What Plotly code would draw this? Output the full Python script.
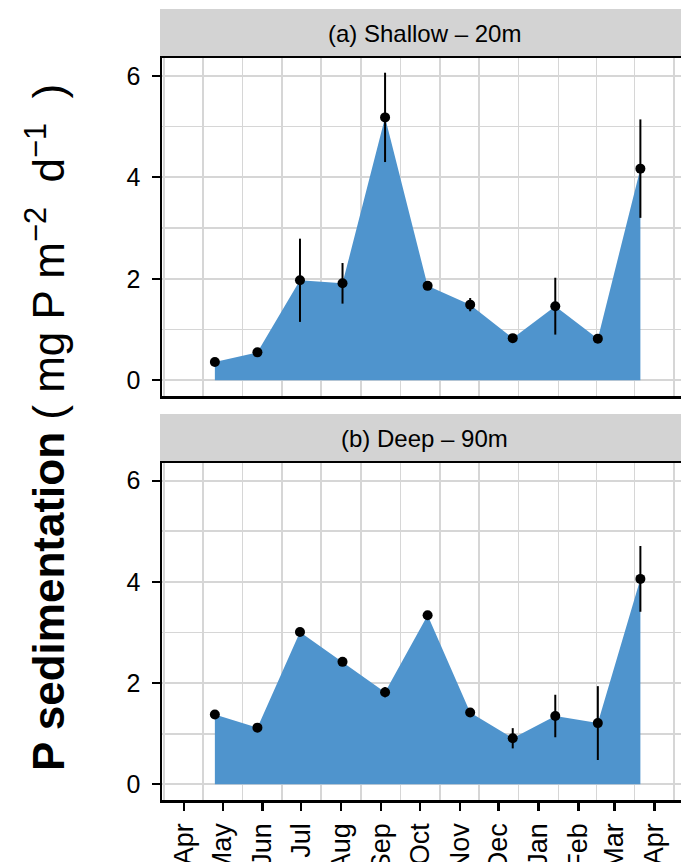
import plotly.graph_objects as go
import pandas as pd

# ---------------- data ----------------
sample_dates = ["2014-04-25", "2014-05-28", "2014-06-30", "2014-08-02", "2014-09-04",
                "2014-10-07", "2014-11-09", "2014-12-12", "2015-01-14", "2015-02-16",
                "2015-03-21"]

shallow_mean = [0.36, 0.55, 1.97, 1.91, 5.18, 1.86, 1.49, 0.83, 1.46, 0.82, 4.17]
shallow_sd = [0.03, 0.04, 0.82, 0.40, 0.88, 0.04, 0.13, 0.04, 0.56, 0.03, 0.97]

deep_mean = [1.38, 1.12, 3.01, 2.42, 1.82, 3.34, 1.42, 0.91, 1.35, 1.21, 4.06]
deep_sd = [0.03, 0.03, 0.03, 0.03, 0.10, 0.03, 0.04, 0.20, 0.42, 0.73, 0.65]

month_ticks = ["2014-04-01", "2014-05-01", "2014-06-01", "2014-07-01", "2014-08-01",
               "2014-09-01", "2014-10-01", "2014-11-01", "2014-12-01", "2015-01-01",
               "2015-02-01", "2015-03-01", "2015-04-01"]
month_labels = ["Apr", "May", "Jun", "Jul", "Aug", "Sep", "Oct", "Nov", "Dec",
                "Jan", "Feb", "Mar", "Apr"]

strip_labels = ["(a) Shallow \u2013 20m", "(b) Deep \u2013 90m"]
y_ticks = [0, 2, 4, 6]

# ---------------- styling ----------------
FILL = "#4F94CD"
GRID = "#D6D6D6"
FONT = "Liberation Sans, Arial, Helvetica, sans-serif"
W, H = 681, 862
ML, MR, MT = 162, 0, 58
MB = H - 800
PW = W - ML - MR
PH = H - MT - MB

def py(pix):  # pixel row -> paper y
    return (H - MB - pix) / PH

def px(pix):  # pixel column -> paper x
    return (pix - ML) / PW

# mid-month minor grid positions
starts = pd.to_datetime(["2014-03-01"] + month_ticks + ["2015-05-01"])
mids = [(starts[i] + (starts[i + 1] - starts[i]) / 2).strftime("%Y-%m-%d %H:%M")
        for i in range(len(starts) - 1)]

fig = go.Figure()
panels = [(shallow_mean, shallow_sd, "x", "y"), (deep_mean, deep_sd, "x2", "y2")]
for mean, sd, xa, ya in panels:
    fig.add_trace(go.Scatter(x=sample_dates, y=mean, mode="lines",
                             line=dict(width=0, color=FILL), fill="tozeroy",
                             fillcolor=FILL, xaxis=xa, yaxis=ya, hoverinfo="skip"))
    fig.add_trace(go.Scatter(x=sample_dates, y=mean, mode="markers",
                             marker=dict(size=10, color="black"),
                             error_y=dict(type="data", array=sd, visible=True,
                                          thickness=2, width=0, color="black"),
                             xaxis=xa, yaxis=ya, hoverinfo="skip"))

xrange = ["2014-03-15", "2015-04-21 12:00"]
common_x = dict(type="date", range=xrange, showgrid=False, zeroline=False,
                automargin=False,
                showline=True, mirror=True, linecolor="black", linewidth=2.5,
                tickvals=month_ticks, ticktext=month_labels,
                minor=dict(tickvals=mids, showgrid=True, gridcolor=GRID, gridwidth=1.8,
                           ticks=""))
common_y = dict(range=[-0.31, 6.35], tickvals=y_ticks, showgrid=True, gridcolor=GRID,
                automargin=False,
                gridwidth=1.8, zeroline=False, showline=True, mirror=False,
                linecolor="black", linewidth=2.5, ticks="outside", ticklen=8,
                tickwidth=2.2, tickcolor="black", ticklabelstandoff=6,
                tickfont=dict(family=FONT, size=25, color="black"),
                minor=dict(dtick=1, tick0=0, showgrid=True, gridcolor=GRID,
                           gridwidth=1.8, ticks=""))

top_lo = py(396)
bot_hi = py(463)

fig.update_layout(
    width=W, height=H, margin=dict(l=ML, r=MR, t=MT, b=MB, autoexpand=False),
    plot_bgcolor="white", paper_bgcolor="white", showlegend=False, hovermode=False,
    font=dict(family=FONT, color="black"),
    xaxis=dict(**common_x, domain=[0, 1], anchor="y", showticklabels=False, ticks="",
               matches="x2"),
    xaxis2=dict(**common_x, domain=[0, 1], anchor="y2", ticks="outside", ticklen=8,
                tickwidth=2.2, tickcolor="black", tickangle=-90, ticklabelstandoff=2,
                tickfont=dict(family=FONT, size=27, color="black")),
    yaxis=dict(**common_y, domain=[top_lo, 1], anchor="x"),
    yaxis2=dict(**common_y, domain=[0, bot_hi], anchor="x2"),
)

# strips
strip_h = 49 / PH
for lab, y0 in zip(strip_labels, [1.0, bot_hi]):
    fig.add_shape(type="rect", xref="paper", yref="paper", x0=px(160), x1=1.02,
                  y0=y0 + 0.002, y1=y0 + strip_h, fillcolor="#D3D3D3", line=dict(width=0),
                  layer="below")
    fig.add_annotation(xref="paper", yref="paper", x=px(424), y=y0 + strip_h / 2,
                       text=lab, showarrow=False, xanchor="center", yanchor="middle",
                       font=dict(family=FONT, size=24, color="black"))

# y-axis title
fig.add_annotation(xref="paper", yref="paper", x=px(45), y=py(428), textangle=-90,
                   text="<b>P sedimentation</b> ( mg P m<sup>\u22122</sup>&nbsp; d<sup>\u22121</sup>&nbsp; )",
                   showarrow=False, xanchor="center", yanchor="middle",
                   font=dict(family=FONT, size=44, color="black"))

fig.write_html("out.html", config={"displayModeBar": False, "staticPlot": True},
               post_script="document.body.style.margin='0px';"
                           "document.body.style.overflow='hidden';")
